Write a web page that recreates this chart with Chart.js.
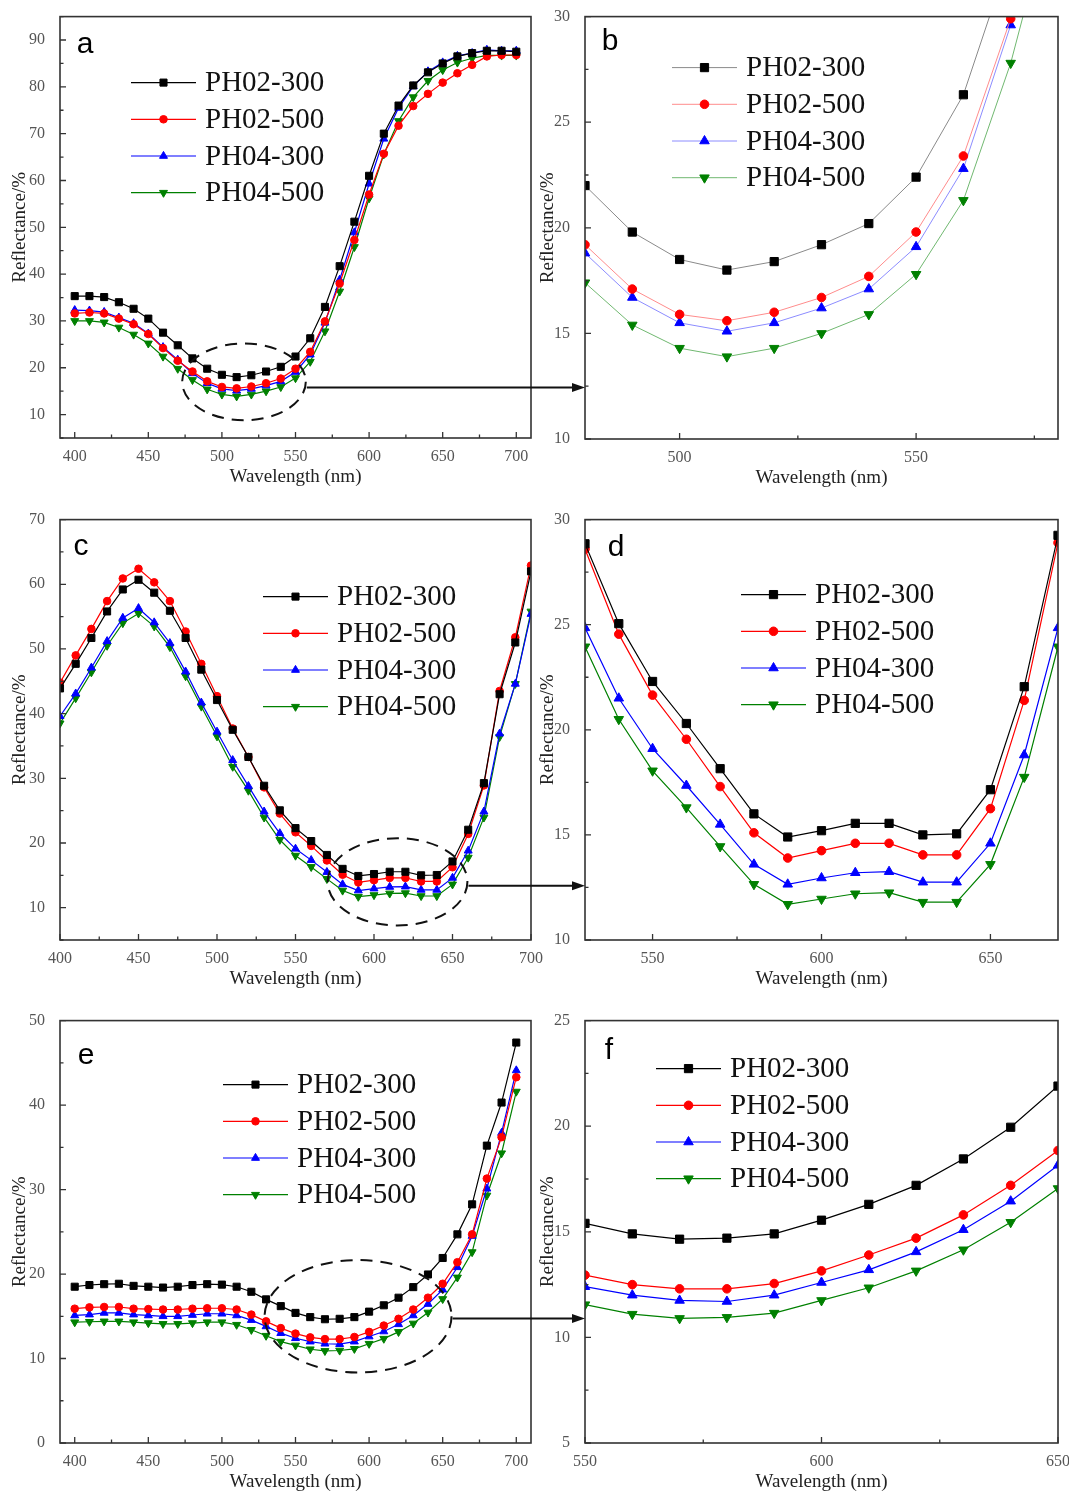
<!DOCTYPE html>
<html>
<head>
<meta charset="utf-8">
<title>Reflectance spectra</title>
<script src="https://cdn.jsdelivr.net/npm/chart.js@4.4.0/dist/chart.umd.min.js"></script>
<style>
    body { margin: 0; background: #fff; width: 1069px; height: 1496px; position: relative; overflow: hidden; }
    canvas { position: absolute; }
    #overlay { left: 0; top: 0; pointer-events: none; z-index: 5; }
</style>
</head>
<body>
<canvas id="chartA"></canvas>
<canvas id="chartB"></canvas>
<canvas id="chartC"></canvas>
<canvas id="chartD"></canvas>
<canvas id="chartE"></canvas>
<canvas id="chartF"></canvas>
<canvas id="overlay" width="1069" height="1496"></canvas>
<script>
/**
 * Reflectance spectra - three samples sets (a/c/e) with zoomed views (b/d/f)
 */

const seriesNames = ['PH02-300', 'PH02-500', 'PH04-300', 'PH04-500'];
const wavelengths = [400, 410, 420, 430, 440, 450, 460, 470, 480, 490, 500, 510, 520, 530, 540, 550,
                     560, 570, 580, 590, 600, 610, 620, 630, 640, 650, 660, 670, 680, 690, 700];

// Panels a & b
const setA_PH02_300 = [35.3, 35.3, 35.1, 34.0, 32.6, 30.5, 27.5, 24.8, 22.0, 19.8, 18.5, 18.0, 18.4, 19.2, 20.2, 22.4,
                       26.3, 33.0, 41.7, 51.2, 61.0, 70.0, 76.0, 80.3, 83.1, 85.0, 86.5, 87.2, 87.7, 87.7, 87.5];
const setA_PH02_500 = [31.6, 31.8, 31.6, 30.5, 29.3, 27.2, 24.2, 21.5, 19.2, 17.1, 15.9, 15.6, 16.0, 16.7, 17.7, 19.8,
                       23.4, 29.9, 38.0, 47.3, 57.0, 65.7, 71.7, 75.9, 78.5, 80.9, 82.9, 84.7, 86.5, 86.8, 86.8];
const setA_PH04_300 = [32.3, 32.2, 31.9, 30.7, 29.5, 27.3, 24.4, 21.7, 18.8, 16.7, 15.5, 15.1, 15.5, 16.2, 17.1, 19.1,
                       22.8, 29.6, 38.8, 48.9, 59.3, 68.9, 75.5, 80.1, 83.3, 85.2, 86.6, 87.2, 87.9, 87.7, 87.7];
const setA_PH04_500 = [30.0, 30.0, 29.7, 28.6, 27.1, 25.2, 22.4, 19.8, 17.4, 15.4, 14.3, 13.9, 14.3, 15.0, 15.9, 17.8,
                       21.3, 27.8, 36.3, 45.8, 56.2, 65.6, 72.7, 77.8, 81.3, 83.6, 85.2, 86.1, 86.7, 86.7, 86.7];

// Panels c & d
const setC_PH02_300 = [43.9, 47.7, 51.7, 55.8, 59.2, 60.7, 58.7, 55.9, 51.7, 46.8, 42.1, 37.5, 33.3, 28.85, 25.05, 22.3,
                       20.3, 18.15, 16.0, 14.9, 15.2, 15.55, 15.55, 15.0, 15.05, 17.15, 22.05, 29.25, 43.0, 51.0, 62.0];
const setC_PH02_500 = [44.8, 49.0, 53.1, 57.4, 60.9, 62.4, 60.3, 57.4, 52.7, 47.7, 42.7, 37.7, 33.3, 28.6, 24.55, 21.65,
                       19.55, 17.3, 15.1, 13.9, 14.25, 14.6, 14.6, 14.05, 14.05, 16.25, 21.4, 28.9, 43.5, 51.8, 62.9];
const setC_PH04_300 = [39.6, 43.1, 47.1, 51.2, 54.8, 56.3, 54.1, 50.9, 46.5, 41.7, 37.2, 32.8, 28.8, 24.85, 21.5, 19.1,
                       17.35, 15.5, 13.6, 12.65, 12.95, 13.2, 13.25, 12.75, 12.75, 14.6, 18.8, 24.85, 36.9, 44.6, 55.4];
const setC_PH04_500 = [38.5, 42.4, 46.4, 50.5, 54.0, 55.5, 53.5, 50.3, 45.8, 41.1, 36.5, 31.8, 28.1, 23.95, 20.5, 18.05,
                       16.3, 14.45, 12.65, 11.7, 11.95, 12.2, 12.25, 11.8, 11.8, 13.6, 17.75, 23.95, 36.4, 44.6, 55.8];

// Panels e & f
const setE_PH02_300 = [18.5, 18.7, 18.8, 18.85, 18.6, 18.5, 18.4, 18.5, 18.7, 18.8, 18.75, 18.5, 17.9, 17.0, 16.2, 15.4,
                       14.9, 14.65, 14.7, 14.9, 15.55, 16.3, 17.2, 18.45, 19.95, 21.9, 24.7, 28.25, 35.2, 40.3, 47.4];
const setE_PH02_500 = [15.9, 16.05, 16.1, 16.1, 15.9, 15.85, 15.8, 15.8, 15.9, 15.95, 15.95, 15.8, 15.2, 14.4, 13.6, 12.95,
                       12.5, 12.3, 12.3, 12.55, 13.15, 13.9, 14.7, 15.8, 17.2, 18.85, 21.4, 24.7, 31.3, 36.2, 43.3];
const setE_PH04_300 = [15.1, 15.2, 15.4, 15.4, 15.2, 15.1, 15.0, 15.0, 15.15, 15.3, 15.3, 15.1, 14.55, 13.8, 13.0, 12.4,
                       12.0, 11.75, 11.7, 12.0, 12.6, 13.2, 14.05, 15.1, 16.45, 18.15, 20.8, 24.5, 30.1, 36.7, 44.1];
const setE_PH04_500 = [14.3, 14.35, 14.4, 14.4, 14.3, 14.2, 14.1, 14.1, 14.2, 14.3, 14.3, 14.0, 13.4, 12.7, 12.0, 11.55,
                       11.1, 10.9, 10.95, 11.15, 11.75, 12.35, 13.15, 14.15, 15.45, 17.05, 19.6, 22.6, 29.3, 34.3, 41.6];

// Tick labels
const xTicksFull = [400, 450, 500, 550, 600, 650, 700];
const xTicksB = [500, 550];
const xTicksZoom = [550, 600, 650];
const yTicksA = [10, 20, 30, 40, 50, 60, 70, 80, 90];
const yTicksC = [10, 20, 30, 40, 50, 60, 70];
const yTicksE = [0, 10, 20, 30, 40, 50];
const yTicksB = [10, 15, 20, 25, 30];
const yTicksF = [5, 10, 15, 20, 25];

const setA = [setA_PH02_300, setA_PH02_500, setA_PH04_300, setA_PH04_500];
const setC = [setC_PH02_300, setC_PH02_500, setC_PH04_300, setC_PH04_500];
const setE = [setE_PH02_300, setE_PH02_500, setE_PH04_300, setE_PH04_500];

// Series styling
const markerColors = ['#000000', '#ff0000', '#0000ff', '#008000'];
const paleLineColors = ['#8a8a8a', '#ff8c8c', '#8c8cff', '#70b870'];
const pointStyles = ['rect', 'circle', 'triangle', 'triangle'];
const pointRotations = [0, 0, 0, 180];
const radiusMain = [5, 3.8, 4.6, 4.6];
const radiusZoom = [5.8, 4.3, 5.5, 5.5];

Chart.defaults.font.family = '"Liberation Serif", "Times New Roman", serif';
Chart.defaults.animation = false;

const panelDeco = {
    id: 'panelDeco',
    afterDatasetsDraw(chart, args, opts) {
        const { ctx, chartArea: ca, scales } = chart;
        const xs = scales.x, ys = scales.y;
        ctx.save();

        // Inward ticks (major + minor)
        ctx.strokeStyle = '#333';
        ctx.lineWidth = 1.3;
        const xMajor = xs.ticks.map(t => t.value);
        const yMajor = ys.ticks.map(t => t.value);
        const minorOf = (vals, step, min, max) => {
            const out = [];
            const first = vals[0] - step;
            for (let v = first; v <= max + 1e-9; v += step * 2) {
                if (v >= min - 1e-9) out.push(v);
            }
            return out;
        };
        ctx.beginPath();
        xMajor.forEach(v => {
            const px = xs.getPixelForValue(v);
            ctx.moveTo(px, ca.bottom); ctx.lineTo(px, ca.bottom - 6);
        });
        minorOf(xMajor, opts.minorX, xs.min, xs.max).forEach(v => {
            const px = xs.getPixelForValue(v);
            ctx.moveTo(px, ca.bottom); ctx.lineTo(px, ca.bottom - 3.5);
        });
        yMajor.forEach(v => {
            const py = ys.getPixelForValue(v);
            ctx.moveTo(ca.left, py); ctx.lineTo(ca.left + 6, py);
        });
        minorOf(yMajor, opts.minorY, ys.min, ys.max).forEach(v => {
            const py = ys.getPixelForValue(v);
            ctx.moveTo(ca.left, py); ctx.lineTo(ca.left + 3.5, py);
        });
        ctx.stroke();

        // Frame
        ctx.lineWidth = 1.6;
        ctx.strokeRect(ca.left, ca.top, ca.width, ca.height);

        // Dashed zoom ellipse
        if (opts.ellipse) {
            const e = opts.ellipse;
            const cx = xs.getPixelForValue(e.cx);
            const cy = ys.getPixelForValue(e.cy);
            const rx = Math.abs(xs.getPixelForValue(e.cx + e.rx) - cx);
            const ry = Math.abs(ys.getPixelForValue(e.cy + e.ry) - cy);
            ctx.strokeStyle = '#111';
            ctx.lineWidth = 2;
            ctx.setLineDash([12, 8]);
            ctx.beginPath();
            ctx.ellipse(cx, cy, rx, ry, 0, 0, Math.PI * 2);
            ctx.stroke();
            ctx.setLineDash([]);
        }

        // Panel letter
        ctx.fillStyle = '#000';
        ctx.font = '30px "Liberation Sans", Arial, sans-serif';
        ctx.textAlign = 'center';
        ctx.textBaseline = 'alphabetic';
        ctx.fillText(opts.letter, ca.left + opts.letterPos[0], ca.top + opts.letterPos[1]);

        // Legend (line + marker + label)
        chart.data.datasets.forEach((ds, i) => {
            const lx = ca.left + opts.legendPos[0];
            const ly = ca.top + opts.legendPos[1] + i * 36.7;
            ctx.strokeStyle = ds.borderColor;
            ctx.lineWidth = ds.borderWidth;
            ctx.beginPath();
            ctx.moveTo(lx, ly);
            ctx.lineTo(lx + 65, ly);
            ctx.stroke();
            ctx.fillStyle = ds.pointBackgroundColor;
            ctx.strokeStyle = ds.pointBorderColor;
            ctx.lineWidth = 1;
            Chart.helpers.drawPoint(ctx, {
                pointStyle: ds.pointStyle,
                rotation: ds.pointRotation,
                radius: ds.pointRadius,
                borderWidth: 1
            }, lx + 32.5, ly);
            ctx.fillStyle = '#111';
            ctx.font = '29px "Liberation Serif", "Times New Roman", serif';
            ctx.textAlign = 'left';
            ctx.textBaseline = 'middle';
            ctx.fillText(ds.label, lx + 74, ly + 1);
        });

        ctx.restore();
    }
};

// Frame rectangles of each plot area on the page: [left, top, right, bottom]
const panels = [
    { canvas: 'chartA', frame: [60, 15, 531, 438], set: setA, zoom: false, xRange: [390, 710], yRange: [5, 95],
      xTicks: xTicksFull, yTicks: yTicksA, minorX: 25, minorY: 5, letter: 'a', letterPos: [25, 36],
      legendPos: [71, 66], titlePad: 9, ellipse: { cx: 515, cy: 17, rx: 42, ry: 8.2, arrowY: 15.8 } },
    { canvas: 'chartB', frame: [585, 15, 1058, 439], set: setA, zoom: true, xRange: [480, 580], yRange: [10, 30],
      xTicks: xTicksB, yTicks: yTicksB, minorX: 25, minorY: 2.5, letter: 'b', letterPos: [25, 33],
      legendPos: [87, 51], titlePad: 12 },
    { canvas: 'chartC', frame: [60, 518, 531, 940], set: setC, zoom: false, xRange: [400, 700], yRange: [5, 70],
      xTicks: xTicksFull, yTicks: yTicksC, minorX: 25, minorY: 5, letter: 'c', letterPos: [21, 35],
      legendPos: [203, 77], titlePad: 9, ellipse: { cx: 615, cy: 14, rx: 44.5, ry: 6.75, arrowY: 13.4 } },
    { canvas: 'chartD', frame: [585, 518, 1058, 940], set: setC, zoom: true, xRange: [530, 670], yRange: [10, 30],
      xTicks: xTicksZoom, yTicks: yTicksB, minorX: 25, minorY: 2.5, letter: 'd', letterPos: [31, 36],
      legendPos: [156, 75], titlePad: 12 },
    { canvas: 'chartE', frame: [60, 1019, 531, 1443], set: setE, zoom: false, xRange: [390, 710], yRange: [0, 50],
      xTicks: xTicksFull, yTicks: yTicksE, minorX: 25, minorY: 5, letter: 'e', letterPos: [26, 43],
      legendPos: [163, 64], titlePad: 9, ellipse: { cx: 592.5, cy: 15, rx: 63.5, ry: 6.65, arrowY: 14.75 } },
    { canvas: 'chartF', frame: [585, 1019, 1058, 1443], set: setE, zoom: true, xRange: [550, 650], yRange: [5, 25],
      xTicks: xTicksZoom, yTicks: yTicksF, minorX: 25, minorY: 2.5, letter: 'f', letterPos: [24, 38],
      legendPos: [71, 48], titlePad: 12 }
];

const PAD_LEFT = 60, PAD_TOP = 15, PAD_RIGHT = 16, AXIS_BOTTOM = 52;

function buildDatasets(set, zoom) {
    return set.map((values, i) => ({
        label: seriesNames[i],
        data: wavelengths.map((w, j) => ({ x: w, y: values[j] })),
        borderColor: zoom && set === setA ? paleLineColors[i] : markerColors[i],
        borderWidth: zoom && set === setA ? 1 : 1.2,
        pointStyle: pointStyles[i],
        pointRotation: pointRotations[i],
        pointRadius: zoom ? radiusZoom[i] : radiusMain[i],
        pointBackgroundColor: markerColors[i],
        pointBorderColor: markerColors[i],
        pointBorderWidth: 1,
        tension: 0
    }));
}

function renderPanel(p) {
    const canvas = document.getElementById(p.canvas);
    const [L, T, R, B] = p.frame;
    canvas.width = R - L + PAD_LEFT + PAD_RIGHT;
    canvas.height = B - T + PAD_TOP + AXIS_BOTTOM;
    canvas.style.left = (L - PAD_LEFT) + 'px';
    canvas.style.top = (T - PAD_TOP) + 'px';

    return new Chart(canvas, {
        type: 'line',
        data: { datasets: buildDatasets(p.set, p.zoom) },
        options: {
            responsive: false,
            events: [],
            layout: { padding: { left: 0, top: PAD_TOP, right: PAD_RIGHT, bottom: 0 } },
            plugins: {
                legend: { display: false },
                tooltip: { enabled: false },
                panelDeco: p
            },
            scales: {
                x: {
                    type: 'linear',
                    min: p.xRange[0],
                    max: p.xRange[1],
                    grid: { display: false },
                    border: { display: false },
                    afterBuildTicks: s => { s.ticks = p.xTicks.map(v => ({ value: v })); },
                    afterFit: s => { s.height = AXIS_BOTTOM; },
                    ticks: { autoSkip: false, maxRotation: 0, padding: 1, color: '#555', font: { size: 16 } },
                    title: {
                        display: true,
                        text: 'Wavelength (nm)',
                        color: '#222',
                        font: { size: 19 },
                        padding: { top: 0, bottom: 2 }
                    }
                },
                y: {
                    type: 'linear',
                    min: p.yRange[0],
                    max: p.yRange[1],
                    grid: { display: false },
                    border: { display: false },
                    afterBuildTicks: s => { s.ticks = p.yTicks.map(v => ({ value: v })); },
                    afterFit: s => { s.width = PAD_LEFT; },
                    ticks: { autoSkip: false, padding: 7, color: '#555', font: { size: 16 } },
                    title: {
                        display: true,
                        text: 'Reflectance/%',
                        color: '#222',
                        font: { size: 19 },
                        padding: { top: p.titlePad, bottom: 0 }
                    }
                }
            }
        },
        plugins: [panelDeco]
    });
}

function drawArrows(charts) {
    const ctx = document.getElementById('overlay').getContext('2d');
    ctx.strokeStyle = '#111';
    ctx.fillStyle = '#111';
    ctx.lineWidth = 2;
    for (let k = 0; k < charts.length; k += 2) {
        const left = charts[k], right = charts[k + 1];
        const e = panels[k].ellipse;
        const lc = left.canvas, rc = right.canvas;
        const x0 = lc.offsetLeft + left.scales.x.getPixelForValue(e.cx + e.rx) + 1;
        const y0 = lc.offsetTop + left.scales.y.getPixelForValue(e.arrowY);
        const x1 = rc.offsetLeft + right.chartArea.left;
        ctx.beginPath();
        ctx.moveTo(x0, y0);
        ctx.lineTo(x1 - 10, y0);
        ctx.stroke();
        ctx.beginPath();
        ctx.moveTo(x1, y0);
        ctx.lineTo(x1 - 13, y0 - 4.5);
        ctx.lineTo(x1 - 13, y0 + 4.5);
        ctx.closePath();
        ctx.fill();
    }
}

document.addEventListener('DOMContentLoaded', () => {
    const charts = panels.map(renderPanel);
    drawArrows(charts);
});
</script>
</body>
</html>
